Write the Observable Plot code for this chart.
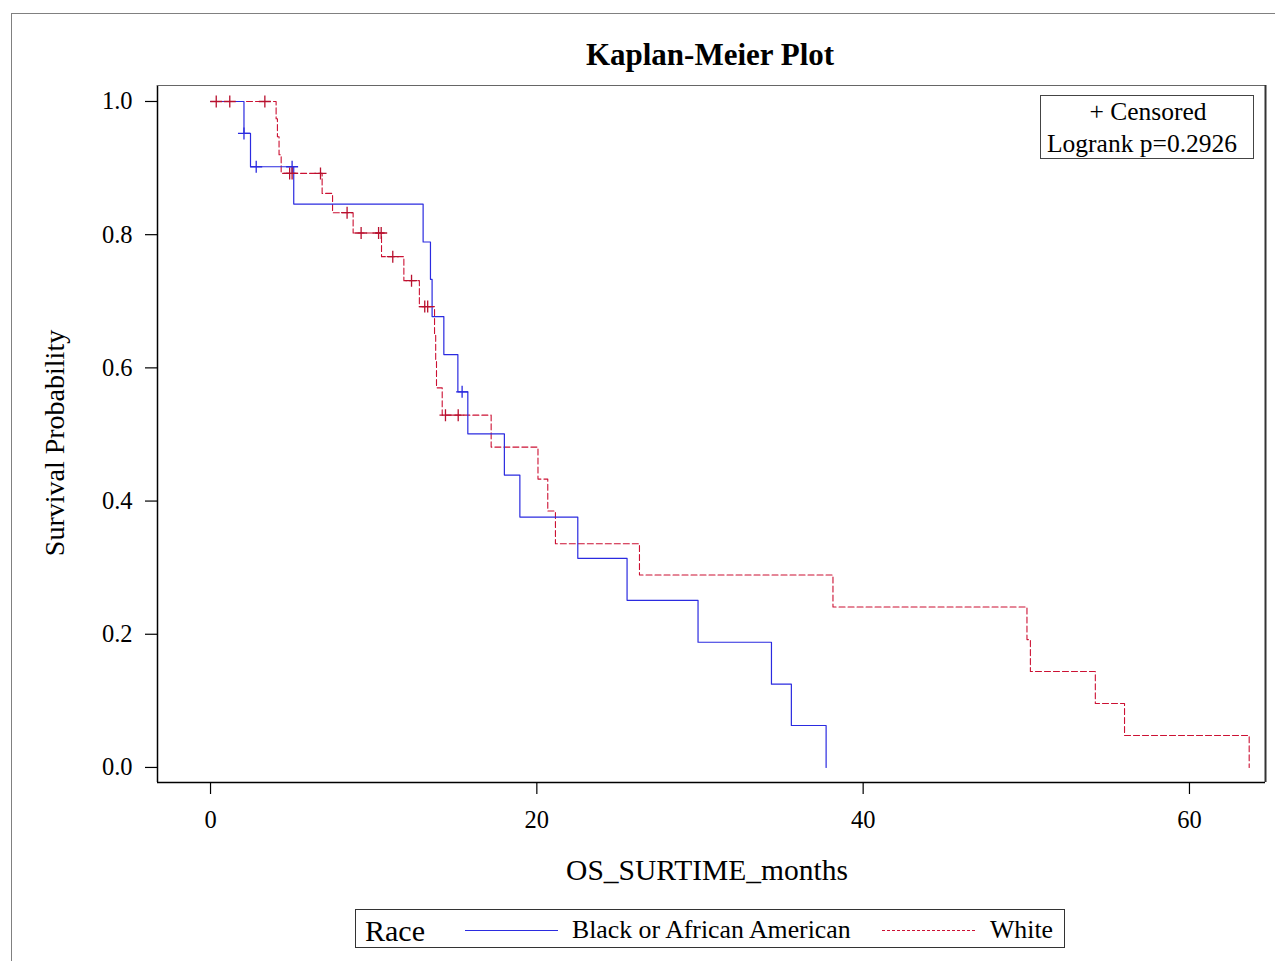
<!DOCTYPE html>
<html>
<head>
<meta charset="utf-8">
<script src="https://cdn.jsdelivr.net/npm/d3@7"></script>
<script src="https://cdn.jsdelivr.net/npm/@observablehq/plot@0.6"></script>
<style>
  html, body { margin: 0; padding: 0; background: #fff; }
  body { width: 1275px; height: 961px; position: relative; overflow: hidden; font-family: "Liberation Serif", "Times New Roman", serif; color: #000; }
  .abs { position: absolute; line-height: 1; white-space: nowrap; }
  #outer { position: absolute; left: 11px; top: 13px; width: 1400px; height: 1100px; border: 1px solid #808080; }
  #chart { position: absolute; left: 0; top: 0; }
</style>
</head>
<body>
<div id="outer"></div>
<div id="chart"></div>
<div class="abs" id="title" style="left:710px; top:39px; font-size:31px; font-weight:bold; transform:translateX(-50%);">Kaplan-Meier Plot</div>
<div class="abs" id="xlabel" style="left:707px; top:856px; font-size:29.5px; transform:translateX(-50%);">OS_SURTIME_months</div>
<div class="abs" id="ylabel" style="left:55px; top:443px; font-size:28px; transform:translate(-50%,-50%) rotate(-90deg);">Survival Probability</div>
<div class="abs" id="inset" style="left:1040px; top:95px; width:214px; height:64px; border:1px solid #444; box-sizing:border-box;">
  <div class="abs" style="left:107px; top:3px; font-size:25.5px; transform:translateX(-50%);">+ Censored</div>
  <div class="abs" style="left:6px; top:35px; font-size:25.5px;">Logrank p=0.2926</div>
</div>
<div class="abs" id="legend" style="left:355px; top:909px; width:710px; height:39px; border:1.5px solid #333; box-sizing:border-box;">
  <div class="abs" style="left:9px; top:6px; font-size:30px;">Race</div>
  <svg class="abs" style="left:108px; top:19px;" width="96" height="4"><line x1="1" y1="1.5" x2="94" y2="1.5" stroke="#2b2be0" stroke-width="1.2"/></svg>
  <div class="abs" style="left:216px; top:7px; font-size:25.8px;">Black or African American</div>
  <svg class="abs" style="left:525px; top:19px;" width="96" height="4"><line x1="1" y1="1.5" x2="94" y2="1.5" stroke="#cc1133" stroke-width="1" stroke-dasharray="3,2"/></svg>
  <div class="abs" style="left:634px; top:7px; font-size:25.8px;">White</div>
</div>
<script>
// ---- Data ----
const blackTime = [0, 2.05, 2.45, 5.1, 13.03, 13.48, 13.58, 14.3, 15.16, 15.77, 18.01, 18.96, 22.51, 25.53, 29.88, 34.38, 35.6, 37.73];
const blackSurv = [1.0, 0.952, 0.902, 0.846, 0.789, 0.733, 0.677, 0.620, 0.564, 0.501, 0.439, 0.376, 0.314, 0.251, 0.188, 0.125, 0.063, 0.0];
const blackCensorTime = [2.05, 2.8, 5.0, 15.42];
const blackCensorSurv = [0.952, 0.902, 0.902, 0.564];

const whiteTime = [0, 4.02, 4.1, 4.2, 4.33, 6.84, 7.48, 8.74, 10.48, 11.85, 12.8, 13.73, 13.8, 13.85, 14.2, 17.2, 20.07, 20.67, 21.14, 26.29, 38.15, 50.04, 50.25, 54.23, 56.02, 63.66];
const whiteSurv = [1.0, 0.974, 0.947, 0.920, 0.892, 0.862, 0.833, 0.8025, 0.767, 0.731, 0.692, 0.651, 0.611, 0.570, 0.529, 0.481, 0.433, 0.385, 0.336, 0.289, 0.241, 0.192, 0.144, 0.096, 0.048, 0.0];
const whiteCensorTime = [0.35, 1.18, 3.33, 4.85, 5.0, 6.74, 8.37, 9.23, 10.3, 10.46, 11.17, 12.32, 13.13, 13.31, 14.4, 15.18];
const whiteCensorSurv = [1.0, 1.0, 1.0, 0.892, 0.892, 0.892, 0.833, 0.8025, 0.8025, 0.8025, 0.767, 0.731, 0.692, 0.692, 0.529, 0.529];

const xTicks = [0, 20, 40, 60];
const yTicks = [0, 0.2, 0.4, 0.6, 0.8, 1.0];

const blueColor = "#2b2be0";
const redColor = "#cc1133";

const toRows = (ts, ss) => ts.map((t, i) => ({t, s: ss[i]}));
const blackRows = toRows(blackTime, blackSurv);
const whiteRows = toRows(whiteTime, whiteSurv);
const blackCens = toRows(blackCensorTime, blackCensorSurv);
const whiteCens = toRows(whiteCensorTime, whiteCensorSurv);

const plusSymbol = {
  draw(ctx, size) {
    const r = Math.sqrt(size / Math.PI);
    ctx.moveTo(-r, 0); ctx.lineTo(r, 0);
    ctx.moveTo(0, -r); ctx.lineTo(0, r);
  }
};

const chart = Plot.plot({
  width: 1275,
  height: 961,
  marginLeft: 157,
  marginRight: 10,
  marginTop: 85,
  marginBottom: 179,
  style: {fontFamily: "'Liberation Serif', 'Times New Roman', serif", fontSize: "24px", color: "#000", background: "transparent", overflow: "visible"},
  x: {domain: [-3.25, 64.66]},
  y: {domain: [-0.0226, 1.024]},
  marks: [
    Plot.line(whiteRows, {x: "t", y: "s", curve: "step-after", stroke: redColor, strokeWidth: 1.1, strokeDasharray: "6,3"}),
    Plot.line(blackRows, {x: "t", y: "s", curve: "step-after", stroke: blueColor, strokeWidth: 1.2}),
    Plot.dot(blackCens, {x: "t", y: "s", symbol: plusSymbol, r: 6, stroke: blueColor, fill: "none", strokeWidth: 1.3}),
    Plot.dot(whiteCens, {x: "t", y: "s", symbol: plusSymbol, r: 6, stroke: "#b8102e", fill: "none", strokeWidth: 1.3}),
    Plot.axisX({ticks: xTicks, tickSize: 12, tickPadding: 16, label: null, fontSize: 24.5, stroke: "#000", strokeWidth: 1.2}),
    Plot.axisY({ticks: yTicks, tickFormat: d3.format(".1f"), tickSize: 12, tickPadding: 13, label: null, fontSize: 24.5, stroke: "#000", strokeWidth: 1.2}),
    Plot.ruleY([-0.0226], {stroke: "#000", strokeWidth: 1.5}),
    Plot.ruleX([-3.25], {stroke: "#000", strokeWidth: 1.5}),
    Plot.ruleY([1.024], {stroke: "#666", strokeWidth: 1}),
    Plot.ruleX([64.66], {stroke: "#333", strokeWidth: 2})
  ]
});
document.getElementById("chart").appendChild(chart);
</script>
</body>
</html>
